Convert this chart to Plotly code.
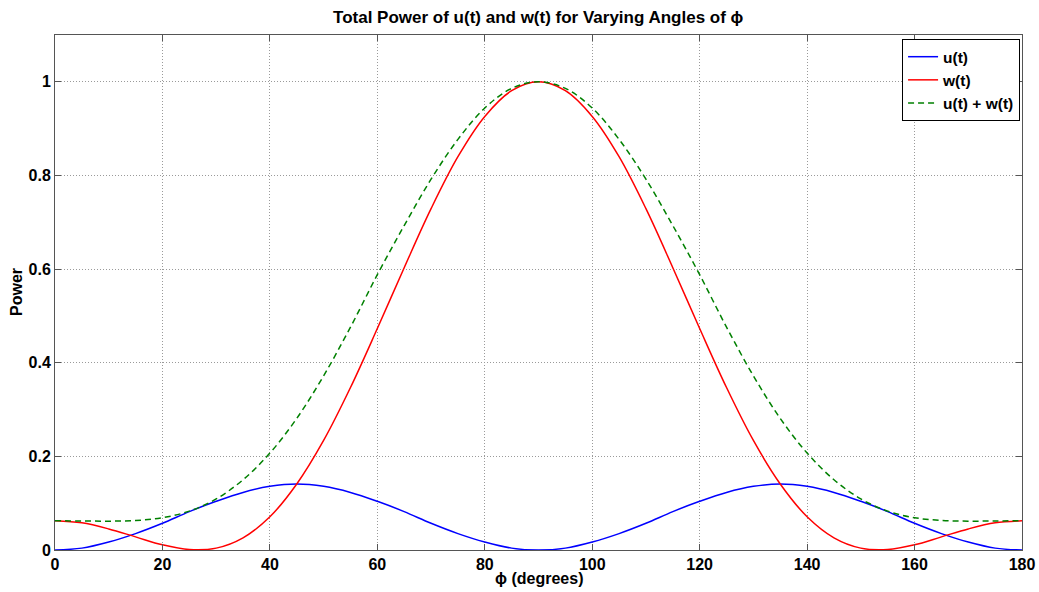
import plotly.graph_objects as go

phi = list(range(0, 181, 5))

u_vals = [0.0, 0.004, 0.017, 0.035, 0.057, 0.082, 0.104, 0.123, 0.136, 0.141,
          0.136, 0.123, 0.104, 0.082, 0.057, 0.035, 0.017, 0.004, 0.0,
          0.004, 0.017, 0.035, 0.057, 0.082, 0.104, 0.123, 0.136, 0.141,
          0.136, 0.123, 0.104, 0.082, 0.057, 0.035, 0.017, 0.004, 0.0]

w_vals = [0.0625, 0.058, 0.045, 0.028, 0.011, 0.001, 0.004, 0.026, 0.071, 0.141,
          0.234, 0.347, 0.473, 0.603, 0.729, 0.840, 0.926, 0.981, 1.0,
          0.981, 0.926, 0.840, 0.729, 0.603, 0.473, 0.347, 0.234,
          0.141, 0.071, 0.026, 0.004, 0.001, 0.011, 0.028, 0.045, 0.058, 0.0625]

sum_vals = [0.0625, 0.062, 0.0616, 0.063, 0.069, 0.083, 0.109, 0.150, 0.207, 0.281,
            0.372, 0.476, 0.588, 0.693, 0.792, 0.877, 0.944, 0.986, 1.0,
            0.986, 0.944, 0.877, 0.792, 0.693, 0.588, 0.476, 0.372,
            0.281, 0.207, 0.150, 0.109, 0.083, 0.069, 0.063, 0.0616, 0.062, 0.0625]

x_ticks = [0, 20, 40, 60, 80, 100, 120, 140, 160, 180]
y_ticks = [0, 0.2, 0.4, 0.6, 0.8, 1.0]
y_tick_labels = ["0", "0.2", "0.4", "0.6", "0.8", "1"]

FONT = "Liberation Sans, Arial, Helvetica, sans-serif"

fig = go.Figure()
fig.add_trace(go.Scatter(x=phi, y=u_vals, mode="lines", name="u(t)",
                         line=dict(color="#0000ff", width=1.5, shape="spline")))
fig.add_trace(go.Scatter(x=phi, y=w_vals, mode="lines", name="w(t)",
                         line=dict(color="#ff0000", width=1.5, shape="spline")))
fig.add_trace(go.Scatter(x=phi, y=sum_vals, mode="lines", name="u(t) + w(t)",
                         line=dict(color="#008000", width=1.5, dash="6px,4px", shape="spline")))

axis_common = dict(
    showline=True, linecolor="#555555", linewidth=1, mirror="allticks",
    ticks="inside", ticklen=6, tickcolor="#555555",
    showgrid=True, gridcolor="#9a9a9a", griddash="1px,2px", gridwidth=1,
    zeroline=False, automargin=False,
    tickfont=dict(family=FONT, size=16, color="black", weight="bold"),
)

fig.update_layout(
    width=1039, height=592,
    paper_bgcolor="white", plot_bgcolor="white",
    margin=dict(l=55, r=17, t=35, b=42),
    title=dict(text="Total Power of u(t) and w(t) for Varying Angles of \u03d5",
               x=0.518, xanchor="center", y=0.972, yanchor="middle",
               font=dict(family=FONT, size=17, color="black", weight="bold")),
    xaxis=dict(range=[0, 180], tickvals=x_ticks, **axis_common),
    yaxis=dict(range=[0, 1.1], tickvals=y_ticks, ticktext=y_tick_labels, **axis_common),
    legend=dict(x=0.998, y=0.992, xanchor="right", yanchor="top",
                bgcolor="white", bordercolor="black", borderwidth=1,
                font=dict(family=FONT, size=15.5, color="black", weight="bold"),
                itemwidth=30, tracegroupgap=0),
    showlegend=True,
    annotations=[
        dict(text="\u03d5 (degrees)", xref="paper", yref="paper", x=0.5, y=-0.0544,
             xanchor="center", yanchor="middle", showarrow=False,
             font=dict(family=FONT, size=16, color="black", weight="bold")),
        dict(text="Power", xref="paper", yref="paper", x=-0.0398, y=0.5,
             xanchor="center", yanchor="middle", showarrow=False, textangle=-90,
             font=dict(family=FONT, size=16, color="black", weight="bold")),
    ],
)

fig.write_html("out.html")
